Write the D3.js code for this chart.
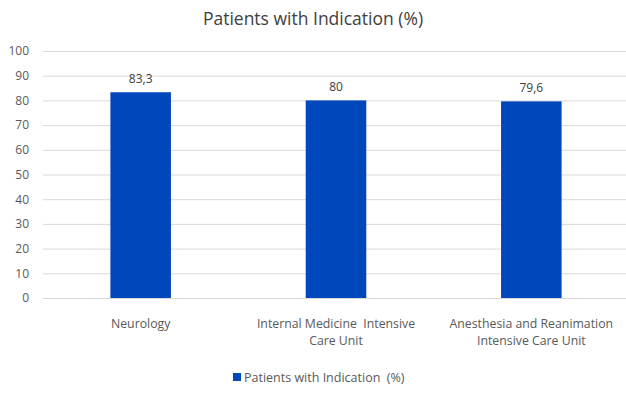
<!DOCTYPE html>
<html>
<head>
<meta charset="utf-8">
<script src="https://cdn.jsdelivr.net/npm/d3@7"></script>
<style>
  html, body { margin: 0; padding: 0; background: #fff; }
  svg { display: block; font-family: "Open Sans", sans-serif; }
  text { white-space: pre; }
</style>
</head>
<body>
<svg id="chart" width="626" height="394"></svg>
<script>
// Chart data
const categories = [
  ["Neurology"],
  ["Internal Medicine  Intensive", "Care Unit"],
  ["Anesthesia and Reanimation", "Intensive Care Unit"]
];
const values = [83.3, 80, 79.6];
const valueLabels = ["83,3", "80", "79,6"];
const yTicks = [0, 10, 20, 30, 40, 50, 60, 70, 80, 90, 100];
const seriesName = "Patients with Indication  (%)";
const chartTitle = "Patients with Indication (%)";

const svg = d3.select("#chart");
const W = 626, H = 394;
const plot = { left: 43, right: 629, top: 51, bottom: 298 };
const barColor = "#0047bb";
const textColor = "#595959";

const x = d3.scaleBand()
  .domain(d3.range(categories.length))
  .range([plot.left, plot.right])
  .paddingInner(0.69)
  .paddingOuter(0.345);

const y = d3.scaleLinear().domain([0, 100]).range([plot.bottom, plot.top]);

// Title
svg.append("text")
  .attr("x", 313).attr("y", 25)
  .attr("text-anchor", "middle")
  .attr("font-size", 17.5)
  .attr("fill", "#404040")
  .text(chartTitle);

// Gridlines and y tick labels
const yAxis = d3.axisLeft(y).tickValues(yTicks).tickSize(plot.left - W).tickPadding(14);
const gy = svg.append("g").attr("transform", `translate(${plot.left},0)`).call(yAxis);
gy.select(".domain").remove();
gy.selectAll(".tick line").attr("stroke", "#d9d9d9").attr("stroke-width", 1);
gy.selectAll(".tick text")
  .attr("font-size", 12).attr("fill", textColor)
  .attr("font-family", "Open Sans, sans-serif")
  .attr("x", -14);

// Bars
svg.append("g").selectAll("rect")
  .data(values)
  .join("rect")
  .attr("x", (d, i) => x(i))
  .attr("width", x.bandwidth())
  .attr("y", d => y(d))
  .attr("height", d => y(0) - y(d))
  .attr("fill", barColor);

// Value labels
svg.append("g").selectAll("text")
  .data(values)
  .join("text")
  .attr("x", (d, i) => x(i) + x.bandwidth() / 2)
  .attr("y", d => y(d) - 9)
  .attr("text-anchor", "middle")
  .attr("font-size", 12)
  .attr("fill", "#404040")
  .text((d, i) => valueLabels[i]);

// Category labels (wrapped over lines)
const catG = svg.append("g").selectAll("text")
  .data(categories)
  .join("text")
  .attr("text-anchor", "middle")
  .attr("font-size", 12.3)
  .attr("fill", textColor)
  .attr("transform", (d, i) => `translate(${x(i) + x.bandwidth() / 2},${plot.bottom + 30})`);
catG.selectAll("tspan")
  .data(d => d)
  .join("tspan")
  .attr("x", 0)
  .attr("dy", (d, j) => j === 0 ? 0 : 17)
  .text(d => d);

// Legend
const legend = svg.append("g").attr("transform", "translate(233,382)");
legend.append("rect").attr("x", 0).attr("y", -9).attr("width", 8).attr("height", 8).attr("fill", barColor);
legend.append("text").attr("x", 11).attr("y", 0)
  .attr("font-size", 12.5).attr("fill", textColor)
  .text(seriesName);
</script>
</body>
</html>
